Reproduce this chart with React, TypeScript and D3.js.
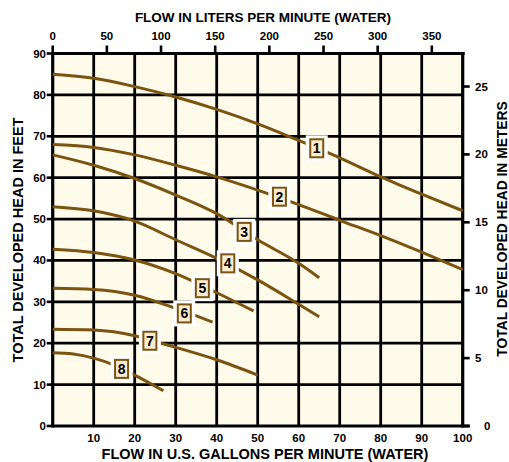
import { useRef, useEffect } from 'react';
import * as d3 from 'd3';

const WIDTH = 509;
const HEIGHT = 462;
const PLOT = { left: 52.7, right: 462.7, top: 53.5, bottom: 426 };

const BROWN = '#7a5410';
const CREAM = '#fffbeb';
const FONT = '"Liberation Sans", Arial, sans-serif';

// axis ticks
const GPM_TICKS = [10, 20, 30, 40, 50, 60, 70, 80, 90, 100];
const FEET_TICKS = [0, 10, 20, 30, 40, 50, 60, 70, 80, 90];
const LPM_TICKS = [0, 50, 100, 150, 200, 250, 300, 350];
const METER_TICKS = [0, 5, 10, 15, 20, 25];

// pump curves: [gpm, feet of head]
const CURVE_1 = [[0, 85], [10, 84], [20, 82], [30, 79.5], [40, 76.5], [50, 73], [60, 69], [70, 64.8], [80, 60.2], [90, 56], [100, 52]];
const CURVE_2 = [[0, 68], [10, 67.3], [20, 65.5], [30, 63], [40, 60.2], [50, 57], [60, 53.5], [70, 49.7], [80, 46], [90, 42], [100, 37.8]];
const CURVE_3 = [[0, 65.5], [10, 63], [20, 59.8], [30, 55.8], [40, 51.3], [50, 45], [60, 39.3], [65, 35.8]];
const CURVE_4 = [[0, 53], [10, 52], [20, 49.5], [30, 45], [40, 40.5], [50, 35.3], [60, 29.4], [65, 26.4]];
const CURVE_5 = [[0, 42.7], [10, 41.9], [20, 40.1], [30, 36.8], [40, 32.2], [49, 27.8]];
const CURVE_6 = [[0, 33.3], [10, 33], [20, 31.6], [30, 28.4], [39, 25.1]];
const CURVE_7 = [[0, 23.4], [10, 23.2], [20, 21.8], [26, 20.1], [30, 19], [40, 16], [50, 12.3]];
const CURVE_8 = [[0, 17.7], [5, 17.4], [10, 16.4], [15, 14.7], [20, 12.3], [27, 8.5]];

const CURVES = [CURVE_1, CURVE_2, CURVE_3, CURVE_4, CURVE_5, CURVE_6, CURVE_7, CURVE_8];
const CURVE_NAMES = ['1', '2', '3', '4', '5', '6', '7', '8'];
// where each number tag sits, in [gpm, feet]
const TAG_AT = [[64.4, 67.1], [55.3, 55.4], [46.7, 46.9], [42.7, 39.3], [36.5, 33.3], [32.1, 27.2], [23.7, 20.6], [16.8, 13.8]];

const LITERS_PER_GALLON = 3.785;
const METERS_PER_FOOT = 0.3048;

const Chart = () => {
	const ref = useRef<any>();

	useEffect(() => {
		const svg = d3.select(ref.current);
		svg.selectAll('*').remove();

		const x = d3.scaleLinear().domain([0, 100]).range([PLOT.left, PLOT.right]);
		const y = d3.scaleLinear().domain([0, 90]).range([PLOT.bottom, PLOT.top]);
		const xL = d3.scaleLinear().domain([0, 100 * LITERS_PER_GALLON]).range([PLOT.left, PLOT.right]);
		const yM = d3.scaleLinear().domain([0, 90 * METERS_PER_FOOT]).range([PLOT.bottom, PLOT.top]);

		svg.append('rect')
			.attr('width', WIDTH)
			.attr('height', HEIGHT)
			.attr('fill', '#ffffff');

		svg.append('rect')
			.attr('x', PLOT.left)
			.attr('y', PLOT.top)
			.attr('width', PLOT.right - PLOT.left)
			.attr('height', PLOT.bottom - PLOT.top)
			.attr('fill', CREAM);

		// grid
		const grid = svg.append('g').attr('stroke', '#000').attr('stroke-width', 2.8);
		GPM_TICKS.filter(t => t < 100).forEach(t => {
			grid.append('line')
				.attr('x1', x(t)).attr('x2', x(t))
				.attr('y1', PLOT.top).attr('y2', PLOT.bottom);
		});
		FEET_TICKS.filter(t => t > 0 && t < 90).forEach(t => {
			grid.append('line')
				.attr('x1', PLOT.left).attr('x2', PLOT.right)
				.attr('y1', y(t)).attr('y2', y(t));
		});

		// frame
		const frame = svg.append('g').attr('stroke', '#000').attr('stroke-width', 3.2);
		frame.append('line').attr('x1', PLOT.left).attr('x2', PLOT.left).attr('y1', PLOT.top - 1.5).attr('y2', PLOT.bottom + 1.5);
		frame.append('line').attr('x1', PLOT.right).attr('x2', PLOT.right).attr('y1', PLOT.top - 1.5).attr('y2', PLOT.bottom + 1.5);
		frame.append('line').attr('x1', PLOT.left).attr('x2', PLOT.right + 2).attr('y1', PLOT.top).attr('y2', PLOT.top);
		frame.append('line').attr('x1', PLOT.left).attr('x2', PLOT.right + 7).attr('y1', PLOT.bottom).attr('y2', PLOT.bottom);

		// curves
		const line = d3.line<number[]>()
			.x(d => x(d[0]))
			.y(d => y(d[1]))
			.curve(d3.curveMonotoneX);

		CURVES.forEach(c => {
			svg.append('path')
				.attr('d', line(c))
				.attr('fill', 'none')
				.attr('stroke', BROWN)
				.attr('stroke-width', 3);
		});

		// number tags
		TAG_AT.forEach((p, i) => {
			const cx = x(p[0]);
			const cy = y(p[1]);
			svg.append('rect')
				.attr('x', cx - 11).attr('y', cy - 13)
				.attr('width', 22).attr('height', 26)
				.attr('fill', '#ffffff');
			svg.append('rect')
				.attr('x', cx - 6.5).attr('y', cy - 9)
				.attr('width', 13).attr('height', 18)
				.attr('fill', '#fcecd2')
				.attr('stroke', BROWN)
				.attr('stroke-width', 2);
			svg.append('text')
				.attr('x', cx).attr('y', cy + 5)
				.attr('text-anchor', 'middle')
				.attr('font-family', FONT)
				.attr('font-weight', 'bold')
				.attr('font-size', 14)
				.attr('fill', '#000')
				.text(CURVE_NAMES[i]);
		});

		const labels = svg.append('g')
			.attr('font-family', FONT)
			.attr('font-weight', 'bold')
			.attr('font-size', 11.5)
			.attr('fill', '#000');
		const ticks = svg.append('g').attr('stroke', '#000').attr('stroke-width', 2.6);

		// left axis, feet
		FEET_TICKS.forEach(t => {
			ticks.append('line').attr('x1', PLOT.left - 6).attr('x2', PLOT.left).attr('y1', y(t)).attr('y2', y(t));
			labels.append('text')
				.attr('x', 46).attr('y', y(t) + 4)
				.attr('text-anchor', 'end')
				.text(t);
		});

		// right axis, meters
		METER_TICKS.forEach(t => {
			ticks.append('line').attr('x1', PLOT.right).attr('x2', PLOT.right + 7).attr('y1', yM(t)).attr('y2', yM(t));
			labels.append('text')
				.attr('x', t === 0 ? 484 : 475).attr('y', yM(t) + 4)
				.attr('text-anchor', 'start')
				.text(t);
		});

		// top axis, liters
		LPM_TICKS.forEach(t => {
			ticks.append('line').attr('x1', xL(t)).attr('x2', xL(t)).attr('y1', PLOT.top - 8).attr('y2', PLOT.top);
			labels.append('text')
				.attr('x', xL(t)).attr('y', 40)
				.attr('text-anchor', 'middle')
				.text(t);
		});

		// bottom axis, gallons
		GPM_TICKS.forEach(t => {
			labels.append('text')
				.attr('x', x(t)).attr('y', 442)
				.attr('text-anchor', 'middle')
				.text(t);
		});

		const titles = svg.append('g')
			.attr('font-family', FONT)
			.attr('font-weight', 'bold')
			.attr('fill', '#000')
			.attr('text-anchor', 'middle');

		titles.append('text').attr('x', 263).attr('y', 22).attr('font-size', 13.5).text('FLOW IN LITERS PER MINUTE (WATER)');
		titles.append('text').attr('x', 265).attr('y', 459).attr('font-size', 14.5).text('FLOW IN U.S. GALLONS PER MINUTE (WATER)');
		titles.append('text')
			.attr('transform', 'translate(23, 240) rotate(-90)')
			.attr('font-size', 14.5)
			.text('TOTAL DEVELOPED HEAD IN FEET');
		titles.append('text')
			.attr('transform', 'translate(506.5, 229) rotate(-90)')
			.attr('font-size', 13.8)
			.text('TOTAL DEVELOPED HEAD IN METERS');
	});

	return (
		<svg
			ref={ref}
			width={WIDTH}
			height={HEIGHT}
			style={{ position: 'absolute', left: 0, top: 0 }}
		/>
	);
};

export default function App() {
	return <Chart />;
}
